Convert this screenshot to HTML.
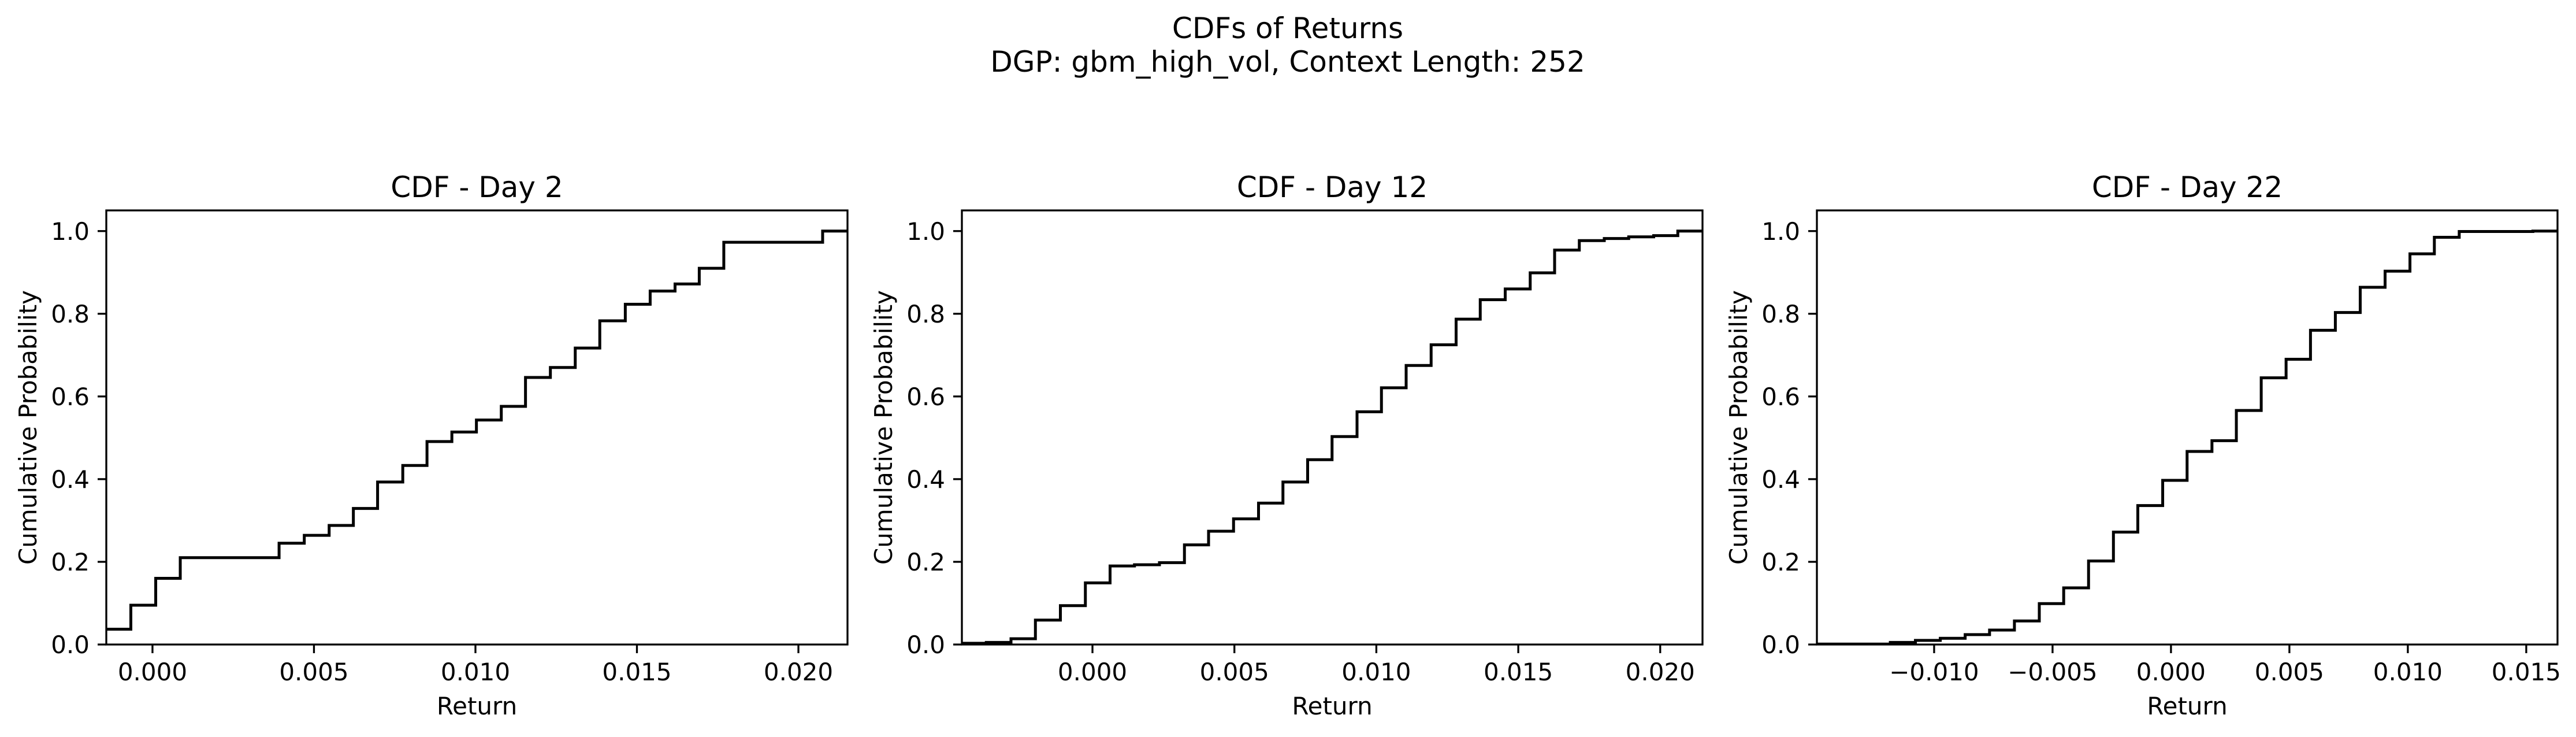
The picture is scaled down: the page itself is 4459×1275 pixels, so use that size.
<!DOCTYPE html>
<html><head><meta charset="utf-8"><style>
html,body{margin:0;padding:0;background:#fff;}
svg{display:block;font-family:"DejaVu Sans","Liberation Sans",sans-serif;}
</style></head><body>
<svg id="fig" width="4459" height="1275" viewBox="0 0 4459 1275">
<text x="2229" y="66" font-size="50" text-anchor="middle">CDFs of Returns</text>
<text x="2229" y="124" font-size="50" text-anchor="middle">DGP: gbm_high_vol, Context Length: 252</text>
</svg>
<script>
// Panel 1 (Day 2)
const day2X = [-0.00143, -0.00067, 0.0001, 0.00086, 0.00392, 0.0047, 0.00547, 0.00622, 0.00697, 0.00775, 0.0085, 0.00927, 0.01003, 0.0108, 0.01155, 0.01232, 0.01309, 0.01385, 0.01464, 0.01541, 0.01618, 0.01693, 0.01769, 0.02075];
const day2Y = [0.037, 0.095, 0.16, 0.21, 0.245, 0.264, 0.288, 0.329, 0.393, 0.433, 0.491, 0.514, 0.543, 0.576, 0.646, 0.670, 0.717, 0.783, 0.823, 0.855, 0.872, 0.910, 0.973, 1.0];
const day2Ticks = [0.000, 0.005, 0.010, 0.015, 0.020];
const day2Lim = [-0.00143, 0.02152];
// Panel 2 (Day 12)
const day12X = [-0.0046, -0.00374, -0.00287, -0.00201, -0.00113, -0.00025, 0.00062, 0.00148, 0.00236, 0.00324, 0.00409, 0.00497, 0.00585, 0.00671, 0.00758, 0.00844, 0.00932, 0.01018, 0.01105, 0.01193, 0.01281, 0.01366, 0.01454, 0.01542, 0.01628, 0.01715, 0.01803, 0.01889, 0.01977, 0.02062];
const day12Y = [0.003, 0.005, 0.014, 0.059, 0.094, 0.149, 0.19, 0.193, 0.198, 0.241, 0.274, 0.304, 0.342, 0.393, 0.447, 0.503, 0.563, 0.621, 0.675, 0.725, 0.787, 0.834, 0.86, 0.899, 0.954, 0.977, 0.982, 0.986, 0.989, 1.0];
const day12Ticks = [0.000, 0.005, 0.010, 0.015, 0.020];
const day12Lim = [-0.0046, 0.02149];
// Panel 3 (Day 22)
const day22X = [-0.01495, -0.01185, -0.01079, -0.00974, -0.00869, -0.00766, -0.00661, -0.00556, -0.00453, -0.00348, -0.00243, -0.0014, -0.00035, 0.00068, 0.00173, 0.00276, 0.00381, 0.00486, 0.00589, 0.00694, 0.00799, 0.00904, 0.01009, 0.01112, 0.01217, 0.01528];
const day22Y = [0.001, 0.005, 0.01, 0.015, 0.024, 0.035, 0.057, 0.099, 0.137, 0.202, 0.272, 0.336, 0.397, 0.467, 0.493, 0.566, 0.645, 0.69, 0.76, 0.803, 0.864, 0.903, 0.945, 0.985, 0.999, 1.0];
const day22Ticks = [-0.010, -0.005, 0.000, 0.005, 0.010, 0.015];
const day22Lim = [-0.01495, 0.01632];
const yTicks = [0.0, 0.2, 0.4, 0.6, 0.8, 1.0];
const titles = ["CDF - Day 2", "CDF - Day 12", "CDF - Day 22"];

const NS = "http://www.w3.org/2000/svg";
const svg = document.getElementById("fig");
function mk(tag, attrs, parent) {
  const e = document.createElementNS(NS, tag);
  for (const k in attrs) e.setAttribute(k, attrs[k]);
  parent.appendChild(e);
  return e;
}
const panels = [
  {L: 184, R: 1467, xs: day2X, ys: day2Y, ticks: day2Ticks, lim: day2Lim},
  {L: 1665, R: 2947, xs: day12X, ys: day12Y, ticks: day12Ticks, lim: day12Lim},
  {L: 3145, R: 4427, xs: day22X, ys: day22Y, ticks: day22Ticks, lim: day22Lim}
];
const T = 364, B = 1115;
panels.forEach((p, i) => {
  const g = mk("g", {}, svg);
  
  
  const sx = v => p.L + (v - p.lim[0]) / (p.lim[1] - p.lim[0]) * (p.R - p.L);
  const sy = v => B - v / 1.05 * (B - T);
  // step line
  let d = "";
  for (let k = 0; k < p.xs.length; k++) {
    const x = sx(p.xs[k]), y = sy(p.ys[k]);
    if (k === 0) d += "M" + x + "," + y;
    else d += "V" + y;
    const xn = k + 1 < p.xs.length ? sx(p.xs[k + 1]) : p.R;
    d += "H" + xn;
  }
  const clipId = "clip" + i;
  const cp = mk("clipPath", {id: clipId}, g);
  mk("rect", {x: p.L, y: T, width: p.R - p.L, height: B - T}, cp);
  const line = mk("path", {d: d, fill: "none", stroke: "#000", "stroke-width": 5, "clip-path": "url(#" + clipId + ")"}, g);
  
  
  // frame
  const fr = mk("rect", {x: p.L, y: T, width: p.R - p.L, height: B - T, fill: "none", stroke: "#000", "stroke-width": 3.3}, g);
  
  
  // x ticks
  p.ticks.forEach(t => {
    const x = sx(t);
    mk("line", {x1: x, x2: x, y1: B, y2: B + 15, stroke: "#000", "stroke-width": 3.3}, g);
    const tx = mk("text", {x: x, y: B + 62, "font-size": 42, "text-anchor": "middle"}, g);
    tx.textContent = (t < 0 ? "\u2212" : "") + Math.abs(t).toFixed(3);
    
    
  });
  yTicks.forEach(t => {
    const y = sy(t);
    mk("line", {x1: p.L - 15, x2: p.L, y1: y, y2: y, stroke: "#000", "stroke-width": 3.3}, g);
    const ty = mk("text", {x: p.L - 29, y: y + 15, "font-size": 42, "text-anchor": "end"}, g);
    ty.textContent = t.toFixed(1);
    
    
  });
  const ti = mk("text", {x: (p.L + p.R) / 2, y: 341, "font-size": 50, "text-anchor": "middle"}, g);
  ti.textContent = titles[i];
  
  
  const xl = mk("text", {x: (p.L + p.R) / 2, y: 1236, "font-size": 42, "text-anchor": "middle"}, g);
  xl.textContent = "Return";
  
  
  const yx = p.L - 121, yc = (T + B) / 2;
  const yl = mk("text", {x: yx, y: yc, "font-size": 42, "text-anchor": "middle", transform: "rotate(-90 " + yx + " " + yc + ")"}, g);
  yl.textContent = "Cumulative Probability";
  
  
});
</script>
</body></html>
